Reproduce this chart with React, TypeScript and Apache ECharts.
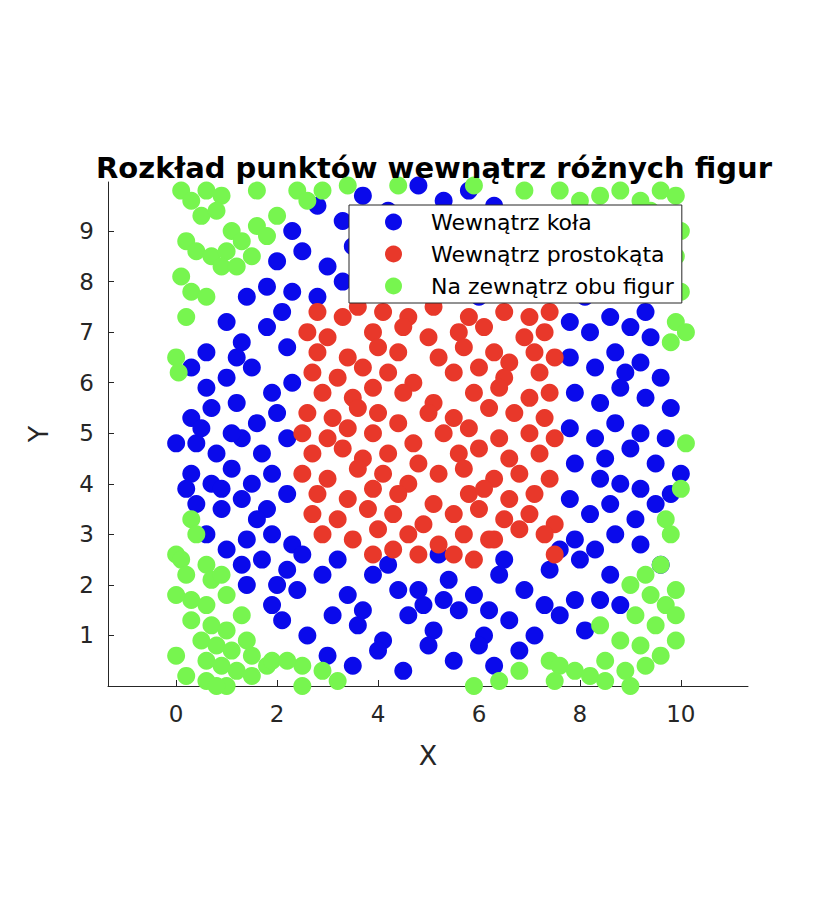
import React, { useEffect, useRef } from 'react';
import * as echarts from 'echarts';

const inCircle: number[][] = [
  [2.3,9.0],[2.8,9.5],[3.3,9.2],[3.7,9.7],[4.2,9.4],[4.8,9.9],[5.3,9.6],[5.8,9.8],[6.3,9.5],[6.8,9.3],[7.2,9.0],
  [2.0,8.4],[2.5,8.6],[3.0,8.3],[3.5,8.7],[4.0,8.5],[4.6,8.8],[5.1,8.4],[5.6,8.9],[6.1,8.6],[6.6,8.4],[7.1,8.7],[7.6,8.5],[8.0,8.2],
  [1.4,7.7],[1.8,7.9],[2.3,7.8],[2.8,7.7],[3.3,8.0],[3.9,7.9],[4.4,8.1],[5.0,7.8],[5.5,8.0],[6.0,7.7],[6.5,7.9],[7.0,8.0],[7.5,7.8],[8.1,7.7],[8.5,7.8],[8.8,8.2],[8.3,8.6],
  [0.3,6.3],[0.6,6.6],[1.0,7.2],[1.3,6.8],[1.8,7.1],[2.2,6.7],[0.6,5.9],[1.0,6.1],[1.5,6.3],[1.9,5.8],[2.3,6.0],
  [0.0,4.8],[0.3,5.3],[0.7,5.5],[1.2,5.6],[1.6,5.2],[2.0,5.4],[0.4,4.8],[0.8,4.6],[1.3,4.9],[1.7,4.6],[2.2,4.9],
  [0.3,4.2],[0.7,4.0],[1.1,4.3],[1.5,4.0],[1.9,4.2],[0.4,3.6],[0.9,3.5],[1.3,3.7],[1.8,3.5],[2.2,3.8],
  [0.6,3.0],[1.0,2.7],[1.4,2.9],[1.9,3.0],[2.3,2.8],[1.3,2.4],[1.7,2.5],[2.2,2.3],
  [7.8,7.2],[8.2,7.0],[8.6,7.3],[9.0,7.1],[9.4,6.9],[7.8,6.5],[8.3,6.3],[8.7,6.6],[9.2,6.4],[9.6,6.1],
  [7.9,5.8],[8.4,5.6],[8.8,5.9],[9.3,5.7],[9.8,5.5],[7.8,5.1],[8.3,4.9],[8.7,5.2],[9.2,5.0],[9.7,4.9],[10.0,4.2],
  [7.9,4.4],[8.4,4.1],[8.8,4.0],[9.2,3.9],[9.5,4.4],[9.8,3.8],[7.8,3.7],[8.2,3.4],[8.6,3.6],[9.1,3.3],[9.5,3.6],
  [7.9,2.9],[8.3,2.7],[8.7,3.0],[9.2,2.8],[9.6,2.4],[8.0,2.5],[8.6,2.2],
  [1.4,2.0],[1.9,1.6],[2.4,1.9],[2.9,2.2],[3.4,1.8],[3.9,2.2],[4.4,1.9],[4.9,1.6],[5.4,2.1],[5.9,1.8],[6.4,2.2],[6.9,1.9],[7.4,2.3],[7.9,1.7],[8.4,1.7],[8.8,1.6],
  [2.1,1.3],[2.6,1.0],[3.1,1.4],[3.6,1.2],[4.1,0.9],[4.6,1.4],[5.1,1.1],[5.6,1.5],[6.1,1.0],[6.6,1.3],[7.1,1.0],[7.6,1.4],[8.1,1.1],
  [3.0,0.6],[3.5,0.4],[4.0,0.7],[4.5,0.3],[5.0,0.8],[5.5,0.5],[6.0,0.8],[6.3,0.4],[6.8,0.7],
  [2.5,2.6],[3.2,2.5],[4.2,2.4],[5.2,2.6],[6.5,2.5],[7.6,2.7],
  [0.5,5.1],[1.1,5.0],[0.2,3.9],[1.6,3.3],[2.0,2.0],[3.7,1.5],[4.8,1.9],[5.3,1.7],[6.2,1.5],[7.3,1.6],[8.5,4.5],[9.0,4.7],[8.9,6.2],[9.3,7.4],[2.1,7.4],[4.9,9.2],[3.9,9.1],[6.2,9.1],[1.2,6.5],[0.9,3.9],
];

const inRect: number[][] = [
  [2.8,7.4],[3.3,7.3],[3.6,7.5],[4.1,7.4],[4.6,7.3],[5.1,7.5],[5.8,7.3],[6.5,7.4],[7.0,7.3],[7.4,7.4],
  [2.6,7.0],[3.0,6.9],[3.9,7.0],[4.5,7.1],[5.0,6.9],[5.6,7.0],[6.1,7.1],[6.9,6.9],[7.3,7.0],
  [2.8,6.6],[3.4,6.5],[4.0,6.7],[4.4,6.6],[5.2,6.5],[5.7,6.7],[6.3,6.6],[6.6,6.4],[7.1,6.6],[7.5,6.5],
  [2.7,6.2],[3.2,6.1],[3.7,6.3],[4.2,6.2],[4.7,6.0],[5.5,6.2],[6.0,6.3],[6.5,6.1],[7.2,6.2],
  [2.9,5.8],[3.5,5.7],[3.9,5.9],[4.5,5.8],[5.1,5.6],[5.9,5.8],[6.4,5.9],[7.0,5.7],[7.4,5.8],
  [2.6,5.4],[3.1,5.3],[3.6,5.5],[4.0,5.4],[4.4,5.2],[5.0,5.4],[5.5,5.3],[6.2,5.5],[6.7,5.4],[7.3,5.3],
  [2.5,5.0],[3.0,4.9],[3.4,5.1],[3.9,5.0],[4.7,4.8],[5.3,5.0],[5.8,5.1],[6.4,4.9],[7.0,5.0],[7.5,4.9],
  [2.7,4.6],[3.3,4.7],[3.7,4.5],[4.2,4.6],[4.8,4.4],[5.6,4.6],[6.0,4.7],[6.6,4.5],[7.2,4.6],
  [2.5,4.2],[3.0,4.1],[3.6,4.3],[4.1,4.2],[4.6,4.0],[5.2,4.2],[5.7,4.3],[6.3,4.1],[6.8,4.2],[7.4,4.1],
  [2.8,3.8],[3.4,3.7],[3.9,3.9],[4.4,3.8],[5.1,3.6],[5.8,3.8],[6.1,3.9],[6.6,3.7],[7.1,3.8],
  [2.7,3.4],[3.2,3.3],[3.8,3.5],[4.3,3.4],[4.9,3.2],[5.5,3.4],[6.0,3.5],[6.5,3.3],[7.0,3.4],[7.5,3.2],
  [2.9,3.0],[3.5,2.9],[4.0,3.1],[4.6,3.0],[5.2,2.8],[5.7,3.0],[6.3,2.9],[6.8,3.1],[7.3,3.0],
  [3.9,2.6],[4.3,2.7],[4.8,2.6],[5.5,2.6],[5.9,2.5],[6.2,2.9],[7.5,2.6],
];

const outside: number[][] = [
  [0.1,9.8],[0.3,9.6],[0.6,9.8],[0.9,9.7],[0.5,9.3],[0.8,9.4],[1.1,9.0],[0.2,8.8],[0.4,8.6],[0.7,8.5],[1.0,8.6],[1.3,8.8],[1.5,8.5],
  [0.1,8.1],[0.3,7.8],[0.6,7.7],[0.9,8.3],[1.2,8.3],[0.2,7.3],[1.6,9.1],[1.8,8.9],[2.4,9.8],[2.6,9.6],[2.9,9.8],[3.4,9.9],[1.6,9.8],[0.0,6.5],[0.05,6.2],[2.0,9.3],
  [6.9,9.8],[7.6,9.8],[8.0,9.6],[8.4,9.7],[8.8,9.8],[9.2,9.6],[9.6,9.8],[9.9,9.7],[8.6,9.3],[9.0,9.2],[9.4,9.4],[9.8,9.2],[9.3,8.9],[9.7,8.8],[10.0,9.0],
  [9.5,8.4],[9.9,8.5],[9.7,8.0],[10.0,7.8],[9.9,7.2],[10.1,7.0],[9.8,6.8],[5.9,9.9],[4.4,9.9],
  [0.0,2.6],[0.1,2.5],[0.3,3.3],[0.4,3.0],[0.2,2.2],[0.6,2.4],[0.7,2.1],[0.9,2.2],[0.3,1.7],[0.6,1.6],[1.0,1.8],[0.0,1.8],[0.3,1.3],[0.7,1.2],[1.0,1.1],[1.3,1.4],
  [0.5,0.9],[0.8,0.8],[1.1,0.7],[1.4,0.9],[0.6,0.5],[0.9,0.4],[1.2,0.3],[0.2,0.2],[0.6,0.1],[1.5,0.2],[1.8,0.4],[1.9,0.5],[1.0,0.0],[0.0,0.6],[2.5,0.4],[2.5,0.0],[2.9,0.3],[3.2,0.1],[2.2,0.5],[1.5,0.6],[0.8,0.0],
  [9.0,2.0],[9.3,2.2],[9.6,2.4],[9.4,1.8],[9.7,1.6],[9.9,1.9],[9.1,1.4],[9.5,1.2],[9.9,1.4],[8.4,1.2],[8.8,0.9],[9.2,0.8],[9.6,0.6],[9.9,0.9],
  [8.5,0.5],[8.9,0.3],[9.3,0.4],[7.4,0.5],[7.6,0.4],[7.9,0.3],[8.2,0.2],[8.5,0.1],[7.5,0.1],[6.8,0.3],[6.4,0.1],[5.9,0.0],[9.7,3.3],[9.8,3.0],[10.0,3.9],[10.1,4.8],[9.0,0.0],
];

const xTicks = [0, 2, 4, 6, 8, 10];
const yTicks = [1, 2, 3, 4, 5, 6, 7, 8, 9];

const axisText = '#262626';

const App: React.FC = () => {
  const chartRef = useRef<HTMLDivElement>(null);

  useEffect(() => {
    const chart = echarts.init(chartRef.current!, undefined, { renderer: 'svg' });
    const axisCommon = {
      axisLine: { show: true, onZero: false, lineStyle: { color: axisText, width: 1 } },
      axisTick: { show: true, inside: true, length: 6, lineStyle: { color: axisText } },
      axisLabel: { color: axisText, fontSize: 23, fontFamily: 'DejaVu Sans' },
      splitLine: { show: false },
      nameTextStyle: { color: axisText, fontSize: 27, fontFamily: 'DejaVu Sans' },
    };
    const series = (name: string, data: number[][], color: string) => ({
      name,
      type: 'scatter',
      data,
      symbol: 'circle',
      symbolSize: 18,
      itemStyle: { color, opacity: 1 },
    });
    chart.setOption({
      animation: false,
      title: {
        text: 'Rozkład punktów wewnątrz różnych figur',
        left: 421,
        textAlign: 'center',
        top: 140,
        textStyle: { fontSize: 29, fontWeight: 'bold', color: '#000', fontFamily: 'DejaVu Sans' },
      },
      grid: { left: 100, top: 174, width: 640, height: 504, containLabel: false },
      xAxis: {
        ...axisCommon,
        type: 'value',
        min: -1.35,
        max: 11.33,
        name: 'X',
        nameLocation: 'middle',
        nameGap: 56,
        axisLabel: { ...axisCommon.axisLabel, margin: 16, customValues: xTicks },
        axisTick: { ...axisCommon.axisTick, customValues: xTicks },
      },
      yAxis: {
        ...axisCommon,
        type: 'value',
        min: 0,
        max: 9.97,
        name: 'Y',
        nameLocation: 'middle',
        nameGap: 56,
        axisLabel: { ...axisCommon.axisLabel, margin: 14, customValues: yTicks },
        axisTick: { ...axisCommon.axisTick, customValues: yTicks },
      },
      legend: {
        orient: 'vertical',
        left: 341,
        top: 197,
        backgroundColor: '#fff',
        borderColor: axisText,
        borderWidth: 1,
        borderRadius: 0,
        padding: [6, 8, 6, 36],
        itemGap: 10,
        itemWidth: 17,
        itemHeight: 17,
        icon: 'circle',
        textStyle: { fontSize: 22, color: '#000', fontFamily: 'DejaVu Sans', padding: [0, 0, 0, 24] },
        data: ['Wewnątrz koła', 'Wewnątrz prostokąta', 'Na zewnątrz obu figur'],
      },
      series: [
        series('Wewnątrz koła', inCircle, '#0a0aeb'),
        series('Wewnątrz prostokąta', inRect, '#e8382a'),
        series('Na zewnątrz obu figur', outside, '#77f54f'),
      ],
    });
    return () => chart.dispose();
  }, []);

  return <div ref={chartRef} style={{ width: 812, height: 883 }} />;
};

export default App;
